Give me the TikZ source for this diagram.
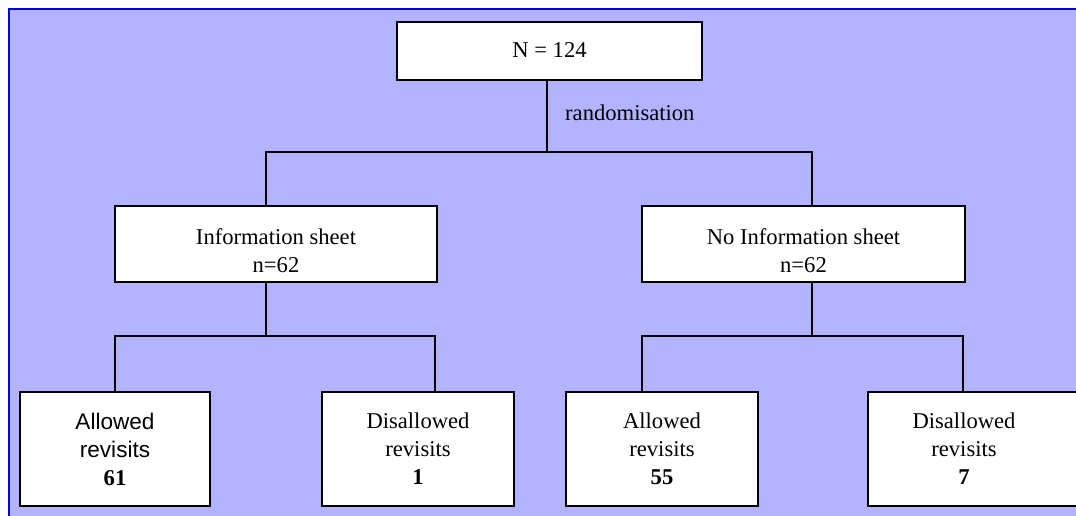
\documentclass[tikz,border=0pt]{standalone}
\usepackage{fontspec}
\setmainfont{Liberation Serif}
\newfontfamily\arialfont{Liberation Sans}
\definecolor{bgfill}{HTML}{B3B3FF}
\definecolor{bgline}{HTML}{0000F0}
\begin{document}
\begin{tikzpicture}[x=1pt,y=-1pt,
  every node/.style={font=\fontsize{22.6}{28}\selectfont, inner sep=0pt, align=center},
  box/.style={draw=black, line width=1.4pt, fill=white, rectangle},
  conn/.style={draw=black, line width=1.4pt}]
\useasboundingbox (0,0) rectangle (1076,515);
\fill[white] (0,0) rectangle (1076,515);
\filldraw[fill=bgfill, draw=bgline, line width=2pt] (9,9) rectangle (1090,530);

\node[box, minimum width=305pt, minimum height=58pt] (top) at (549.5,51) {\raisebox{1.5pt}{N = 124}};
\node[anchor=west] (rand) at (565,113) {randomisation};

\node[box, minimum width=322pt, minimum height=76pt] (info) at (276,244) {\rule{0pt}{30pt}Information sheet\\n=62};
\node[box, minimum width=323pt, minimum height=76pt] (noinfo) at (803.5,244) {\rule{0pt}{30pt}No Information sheet\\n=62};

\node[box, minimum width=190pt, minimum height=114pt] (al) at (115,449) {\arialfont Allowed\\\arialfont revisits\\\textbf{61}};
\node[box, minimum width=192pt, minimum height=114pt] (dl) at (418,449) {Disallowed\\revisits\\\textbf{1}};
\node[box, minimum width=192pt, minimum height=114pt] (ar) at (662,449) {Allowed\\revisits\\\textbf{55}};
\filldraw[fill=white, draw=black, line width=1.4pt] (868,392) rectangle (1095,506);
\node[minimum width=192pt, minimum height=114pt] (dr) at (964,449) {Disallowed\\revisits\\\textbf{7}};

\coordinate (j0) at (547,152);
\coordinate (j0l) at (266,152);
\coordinate (j0r) at (812,152);
\coordinate (j1) at (266,336);
\coordinate (j1l) at (115,336);
\coordinate (j1r) at (435,336);
\coordinate (j2) at (812,336);
\coordinate (j2l) at (642,336);
\coordinate (j2r) at (963,336);

\draw[conn] (top.south -| j0) -- (j0);
\draw[conn] (j0l |- info.north) -- (j0l) -- (j0r) -- (j0r |- noinfo.north);
\draw[conn] (info.south -| j1) -- (j1);
\draw[conn] (al.north) -- (j1l) -- (j1r) -- (j1r |- dl.north);
\draw[conn] (noinfo.south -| j2) -- (j2);
\draw[conn] (j2l |- ar.north) -- (j2l) -- (j2r) -- (j2r |- dr.north);
\end{tikzpicture}
\end{document}
